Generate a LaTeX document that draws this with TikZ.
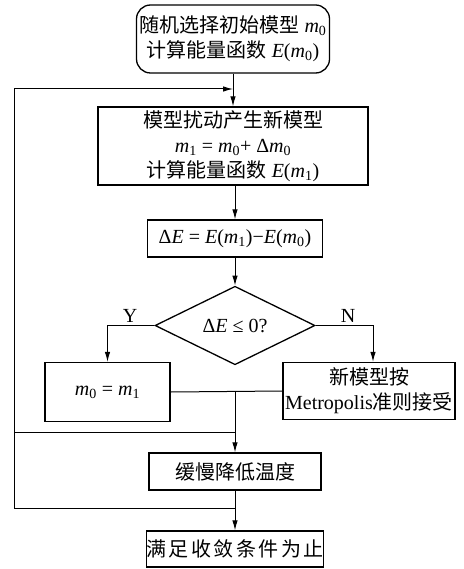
\documentclass[tikz,border=0pt]{standalone}
\usepackage{fontspec}
\setmainfont{Liberation Serif}
\newfontfamily\cjk{Noto Sans CJK SC}
\usetikzlibrary{shapes.geometric,arrows.meta}
\newcommand\zh[1]{{\cjk #1}}
\newcommand\mi[1]{\textit{#1}}
\newcommand\sbs[1]{\textsubscript{#1}}
\tikzset{
  box/.style={draw, line width=1.3pt, inner sep=0pt, align=center, font=\fontsize{20}{25}\selectfont},
  conn/.style={line width=1pt},
  arr/.style={line width=1pt, -{Latex[length=10pt,width=5.5pt]}},
  lbl/.style={font=\fontsize{20}{24}\selectfont, inner sep=0pt}
}
\begin{document}
\begin{tikzpicture}[x=1pt,y=-1pt]
\useasboundingbox (0,0) rectangle (463,569);
\node[box, rounded corners=14pt, minimum width=193pt, minimum height=68pt] (b1) at (233,39)
  {\zh{随机选择初始模型} \mi{m}\sbs{0}\\\zh{计算能量函数} \mi{E}(\mi{m}\sbs{0})};
\node[box, minimum width=270pt, minimum height=78pt] (b2) at (233,146)
  {\zh{模型扰动产生新模型}\\\mi{m}\sbs{1} = \mi{m}\sbs{0}+ Δ\mi{m}\sbs{0}\\\zh{计算能量函数} \mi{E}(\mi{m}\sbs{1})};
\node[box, minimum width=175pt, minimum height=37pt] (b3) at (235,238.5)
  {Δ\mi{E} = \mi{E}(\mi{m}\sbs{1})−\mi{E}(\mi{m}\sbs{0})};
\node[box, shape=diamond, minimum width=160pt, minimum height=61pt] (d) at (235,325.5)
  {Δ\mi{E} ≤ 0?};
\node[box, minimum width=125pt, minimum height=59pt] (bm) at (107.5,392)
  {\mi{m}\sbs{0} = \mi{m}\sbs{1}};
\node[box, minimum width=172pt, minimum height=57pt] (bn) at (369,391)
  {\zh{新模型按}\\Metropolis\zh{准则接受}};
\node[box, minimum width=172pt, minimum height=37pt] (b5) at (235,471.5)
  {\zh{缓慢降低温度}};
\node[box, minimum width=170pt, minimum height=36pt] (b6) at (235,549)
  {\zh{满\hspace{2.5pt}足\hspace{2.5pt}收\hspace{2.5pt}敛\hspace{2.5pt}条\hspace{2.5pt}件\hspace{2.5pt}为\hspace{2.5pt}止}};
\node[lbl] (y) at (130,316) {Y};
\node[lbl] (n) at (348,316) {N};
\coordinate (top) at (233,89);
\coordinate (tl) at (14,89);
\coordinate (j1) at (235,392);
\coordinate (j2) at (235,432);
\coordinate (l2) at (14,432);
\coordinate (j3) at (235,508);
\coordinate (l3) at (14,508);
\draw[arr] (b1.south) -- (b2.north);
\draw[arr] (b2.south) -- (b3.north |- b2.south) -- (b3.north);
\draw[arr] (b3.south) -- (d.north);
\draw[arr] (d.west) -| (bm.north);
\draw[arr] (d.east) -| ([xshift=4pt]bn.north);
\draw[conn] (bm.east) -- (bn.west);
\draw[arr] (j1) -- (b5.north);
\draw[conn] (l2) -- (j2);
\draw[arr] (b5.south) -- (b6.north);
\draw[conn] (j3) -- (l3) -- (tl);
\draw[arr] (tl) -- (top);
\end{tikzpicture}
\end{document}
